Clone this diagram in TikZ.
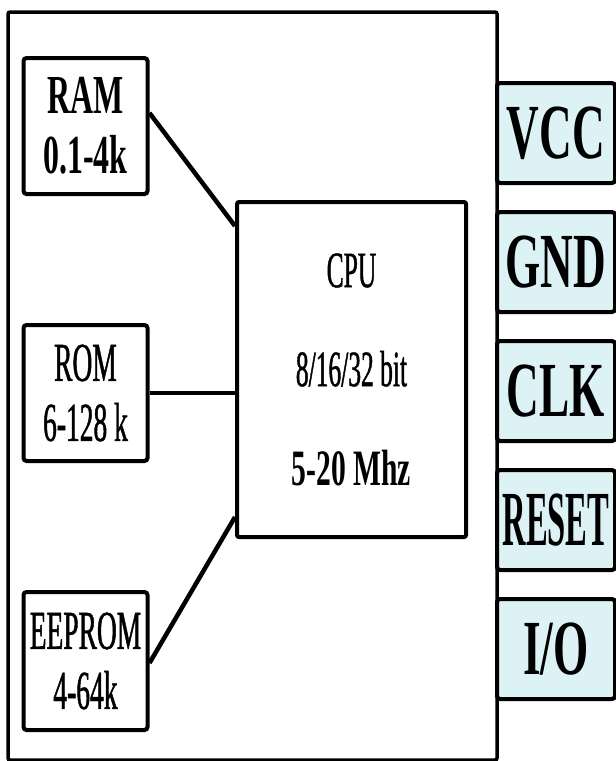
\documentclass[tikz,border=0pt]{standalone}
\usepackage{fontspec}
\setmainfont{Liberation Serif}[FakeStretch=0.5,UprightFeatures={FakeBold=0.8},
  BoldFeatures={FakeStretch=0.58}]
\usepackage{xcolor}
\definecolor{cLine}{HTML}{000000}
\definecolor{cPin}{HTML}{DDF2F4}
\usetikzlibrary{positioning,calc}
\tikzset{
  chip-box/.style={draw=cLine,line width=3.5pt,rounded corners=2pt,inner sep=0pt},
  mem-box/.style={draw=cLine,line width=4pt,rounded corners=3pt,align=center,
    inner sep=0pt,minimum width=124pt,minimum height=136pt,
    font=\fontsize{55}{60}\selectfont},
  cpu-box/.style={draw=cLine,line width=4pt,rounded corners=2pt,align=center,
    inner sep=0pt,minimum width=229pt,minimum height=335pt,
    font=\fontsize{51}{99}\selectfont},
  pin-box/.style={draw=cLine,fill=cPin,line width=4pt,rounded corners=3pt,
    inner sep=0pt,minimum width=118pt,minimum height=100pt,
    font=\bfseries\fontsize{78}{78}\selectfont},
  bus/.style={line width=4.5pt,draw=cLine},
}

\begin{document}
\begin{tikzpicture}[x=1pt,y=-1pt,node distance=127pt]
  \useasboundingbox (0,0) rectangle (616,761);
  \node[chip-box,minimum width=489pt,minimum height=748pt] (chip) at (252.5,386) {};
  % memory blocks
  \node[mem-box] (ram) at (85.5,126) {\textbf{RAM}\\\textbf{0.1-4k}};
  \node[mem-box,below=of ram] (rom) {ROM\\6-128 k};
  \node[mem-box,below=of rom,minimum height=138pt] (eeprom) {EEPROM\\4-64k};
  \node[cpu-box] (cpu) at (351.5,369.5) {CPU\\8/16/32 bit\\\textbf{5-20 Mhz}};
  % pins
  \node[pin-box] (vcc) at (556,133) {VCC};
  \node[pin-box,below=25pt of vcc] (gnd) {GND};
  \node[pin-box,below=25pt of gnd] (clk) {CLK};
  \node[pin-box,below=25pt of clk] (reset) {\scalebox{0.72}[1]{RESET}};
  \node[pin-box,below=25pt of reset] (io) {I/O};
  \draw[bus] ([yshift=13pt]ram.east) -- ([yshift=-26pt]cpu.north west);
  \draw[bus] (rom.east) -- (cpu.west |- rom.east);
  \draw[bus] ([yshift=-2pt]eeprom.east) -- ([yshift=22pt]cpu.south west);
\end{tikzpicture}
\end{document}
